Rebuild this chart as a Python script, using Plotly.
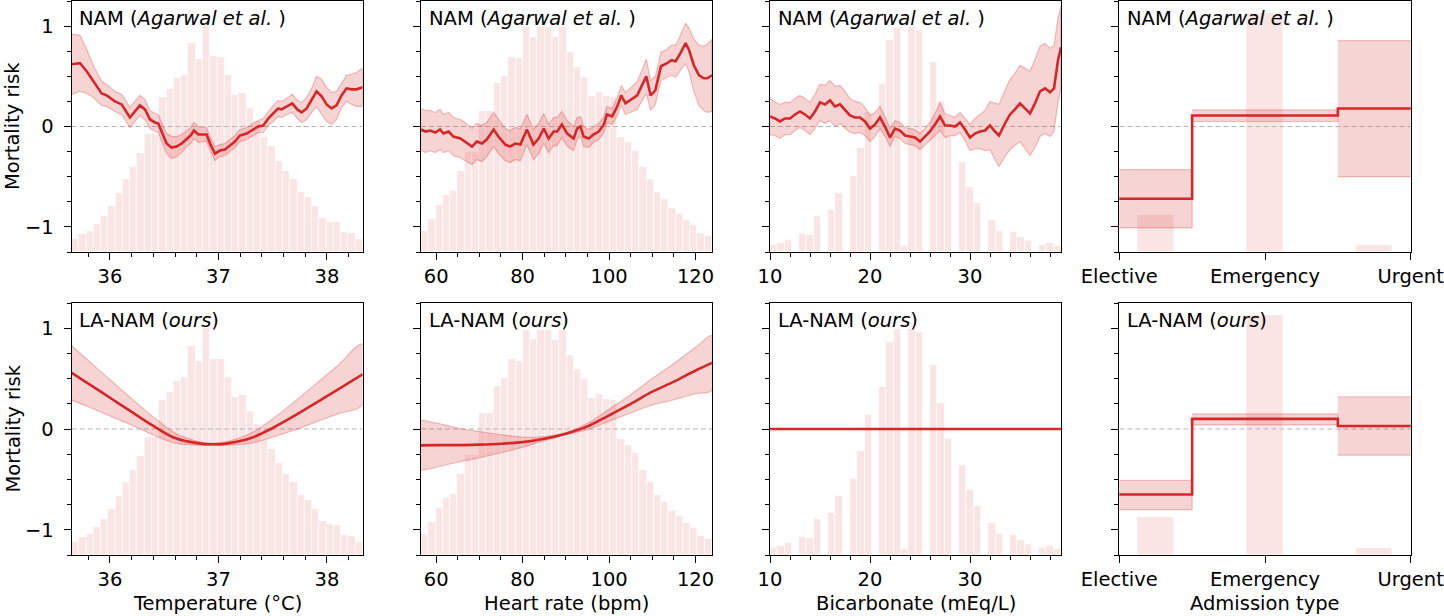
import numpy as np
import plotly.graph_objects as go

# ---------------- data ----------------
# Temperature (°C)
temp_range = [35.647, 38.33]
temp_hist = [0.056, 0.078, 0.093, 0.124, 0.158, 0.203, 0.261, 0.323, 0.377, 0.437,
             0.521, 0.521, 0.685, 0.720, 0.769, 0.783, 0.923, 0.854, 1.000, 0.866,
             0.863, 0.785, 0.695, 0.704, 0.636, 0.579, 0.508, 0.468, 0.405, 0.358,
             0.323, 0.265, 0.243, 0.202, 0.152, 0.135, 0.131, 0.087, 0.082, 0.056]
temp_x = [35.647, 35.723, 35.785, 35.846, 35.923, 35.969, 36.046, 36.108, 36.184, 36.230,
          36.276, 36.323, 36.369, 36.415, 36.445, 36.476, 36.522, 36.568, 36.614, 36.661,
          36.707, 36.743, 36.774, 36.814, 36.845, 36.891, 36.922, 36.968, 37.014, 37.060,
          37.106, 37.152, 37.198, 37.260, 37.321, 37.367, 37.413, 37.459, 37.505, 37.551,
          37.582, 37.628, 37.680, 37.727, 37.767, 37.813, 37.859, 37.905, 37.951, 37.997,
          38.043, 38.089, 38.135, 38.181, 38.227, 38.273, 38.330]
temp_nam = [0.62, 0.63, 0.55, 0.45, 0.33, 0.31, 0.25, 0.22, 0.09, 0.15,
            0.21, 0.17, 0.07, 0.04, 0.03, -0.05, -0.17, -0.21, -0.20, -0.17,
            -0.12, -0.09, -0.04, -0.08, -0.08, -0.08, -0.17, -0.27, -0.24, -0.23,
            -0.19, -0.15, -0.09, -0.07, -0.03, 0.00, 0.01, 0.08, 0.13, 0.18,
            0.17, 0.20, 0.23, 0.17, 0.14, 0.18, 0.26, 0.35, 0.30, 0.22,
            0.18, 0.21, 0.31, 0.38, 0.37, 0.37, 0.39]
temp_nam_hw = [0.30, 0.28, 0.22, 0.16, 0.12, 0.11, 0.10, 0.10, 0.10, 0.10,
               0.10, 0.10, 0.09, 0.09, 0.09, 0.09, 0.10, 0.11, 0.10, 0.09,
               0.08, 0.08, 0.08, 0.08, 0.07, 0.07, 0.07, 0.07, 0.06, 0.06,
               0.06, 0.06, 0.06, 0.06, 0.06, 0.06, 0.07, 0.07, 0.08, 0.08,
               0.08, 0.08, 0.09, 0.09, 0.10, 0.11, 0.12, 0.15, 0.17, 0.17,
               0.16, 0.14, 0.12, 0.13, 0.15, 0.17, 0.19]
temp_la_x = [35.647, 35.8, 36.0, 36.2, 36.4, 36.6, 36.8, 36.95, 37.1, 37.3, 37.5, 37.7, 37.9, 38.1, 38.33]
temp_la = [0.556, 0.45, 0.31, 0.17, 0.03, -0.09, -0.14, -0.152, -0.14, -0.09, 0.01, 0.13, 0.26, 0.39, 0.543]
temp_la_hw = [0.27, 0.23, 0.18, 0.13, 0.09, 0.05, 0.02, 0.01, 0.02, 0.05, 0.09, 0.14, 0.19, 0.24, 0.30]

# Heart rate (bpm)
hr_range = [56.5, 123.8]
hr_hist = [0.091, 0.147, 0.208, 0.253, 0.270, 0.358, 0.442, 0.442, 0.626, 0.626,
           0.747, 0.781, 0.865, 0.857, 0.994, 0.953, 0.994, 0.994, 0.950, 0.994,
           0.884, 0.820, 0.776, 0.691, 0.710, 0.689, 0.685, 0.511, 0.486, 0.448,
           0.375, 0.321, 0.265, 0.233, 0.196, 0.170, 0.143, 0.121, 0.084, 0.069]
hr_x = [56.5, 57.5, 58.6, 59.8, 60.9, 61.7, 62.9, 64.0, 65.6, 66.7,
        68.3, 69.4, 70.6, 71.7, 73.3, 74.4, 76.0, 77.1, 78.3, 79.5,
        81.0, 82.5, 83.7, 84.9, 86.0, 87.2, 88.0, 89.1, 90.3, 91.8,
        92.6, 93.4, 94.1, 95.3, 96.4, 97.6, 98.8, 99.5, 100.7, 101.9,
        102.8, 103.8, 104.9, 106.5, 107.6, 108.6, 109.6, 110.7, 112.0, 113.4,
        114.4, 115.4, 116.5, 117.7, 118.5, 119.6, 120.8, 121.9, 122.7, 123.8]
hr_nam = [-0.03, -0.05, -0.04, -0.06, -0.03, -0.07, -0.05, -0.10, -0.12, -0.15,
          -0.20, -0.15, -0.17, -0.13, -0.03, -0.10, -0.18, -0.20, -0.17, -0.18,
          -0.03, -0.18, -0.12, -0.02, -0.12, -0.05, -0.05, 0.02, -0.07, -0.12,
          -0.02, 0.00, -0.10, -0.12, -0.08, -0.05, 0.02, 0.12, 0.10, 0.20,
          0.31, 0.23, 0.26, 0.31, 0.41, 0.50, 0.31, 0.36, 0.60, 0.63,
          0.66, 0.65, 0.73, 0.83, 0.76, 0.61, 0.51, 0.48, 0.48, 0.51]
hr_nam_hw = [0.21, 0.21, 0.20, 0.20, 0.20, 0.19, 0.19, 0.19, 0.19, 0.19,
             0.18, 0.18, 0.18, 0.17, 0.17, 0.17, 0.16, 0.16, 0.16, 0.16,
             0.15, 0.15, 0.15, 0.15, 0.14, 0.14, 0.14, 0.13, 0.13, 0.12,
             0.11, 0.10, 0.10, 0.09, 0.08, 0.08, 0.08, 0.08, 0.08, 0.09,
             0.10, 0.11, 0.12, 0.14, 0.15, 0.17, 0.15, 0.14, 0.14, 0.14,
             0.15, 0.16, 0.18, 0.20, 0.22, 0.26, 0.30, 0.32, 0.34, 0.36]
hr_la_x = [56.5, 60, 65, 70, 75, 80, 85, 90, 95, 100, 105, 110, 115, 120, 123.8]
hr_la = [-0.162, -0.16, -0.16, -0.155, -0.146, -0.13, -0.096, -0.046, 0.026, 0.136, 0.25, 0.37, 0.47, 0.58, 0.656]
hr_la_hw = [0.25, 0.22, 0.17, 0.13, 0.09, 0.05, 0.02, 0.01, 0.03, 0.06, 0.09, 0.13, 0.18, 0.23, 0.27]

# Bicarbonate (mEq/L)
bic_range = [10.0, 39.1]
bic_hist = [0.029, 0.040, 0.054, 0.0, 0.078, 0.075, 0.159, 0.0, 0.187, 0.261,
            0.0, 0.336, 0.459, 0.619, 0.0, 0.742, 0.938, 0.997, 0.025, 0.997,
            0.982, 0.0, 0.839, 0.669, 0.513, 0.0, 0.399, 0.287, 0.216, 0.0,
            0.140, 0.093, 0.0, 0.087, 0.066, 0.050, 0.0, 0.031, 0.038, 0.027]
bic_x = [10.0, 10.5, 11.0, 11.5, 12.0, 12.5, 13.0, 13.5, 14.0, 14.5,
         15.0, 15.5, 16.0, 16.5, 17.0, 17.5, 18.0, 18.5, 19.0, 19.5,
         20.0, 20.5, 21.0, 21.5, 22.0, 22.5, 23.0, 23.5, 24.0, 24.5,
         25.0, 25.5, 26.0, 26.5, 27.0, 27.5, 28.0, 28.5, 29.0, 29.5,
         30.0, 30.5, 31.0, 31.5, 32.0, 32.5, 32.9, 33.5, 34.0, 34.5,
         35.0, 35.5, 36.0, 36.5, 37.0, 37.5, 38.0, 38.4, 38.8, 39.1]
bic_nam = [0.10, 0.08, 0.05, 0.08, 0.08, 0.12, 0.15, 0.12, 0.08, 0.15,
           0.24, 0.22, 0.26, 0.20, 0.22, 0.17, 0.11, 0.09, 0.09, 0.05,
           -0.02, 0.02, 0.09, 0.00, -0.11, -0.02, -0.04, -0.09, -0.10, -0.11,
           -0.15, -0.10, -0.05, 0.02, 0.10, 0.01, 0.01, 0.00, 0.04, -0.03,
           -0.11, -0.07, -0.05, -0.04, 0.01, -0.05, -0.09, 0.03, 0.12, 0.17,
           0.23, 0.18, 0.13, 0.23, 0.35, 0.38, 0.34, 0.38, 0.66, 0.79]
bic_nam_hw = [0.18, 0.17, 0.17, 0.16, 0.16, 0.16, 0.16, 0.16, 0.16, 0.17,
              0.18, 0.19, 0.20, 0.20, 0.19, 0.18, 0.17, 0.16, 0.15, 0.14,
              0.13, 0.12, 0.11, 0.10, 0.09, 0.08, 0.08, 0.08, 0.08, 0.08,
              0.08, 0.08, 0.09, 0.11, 0.14, 0.12, 0.10, 0.09, 0.10, 0.11,
              0.13, 0.15, 0.17, 0.20, 0.24, 0.28, 0.31, 0.33, 0.35, 0.36,
              0.38, 0.40, 0.42, 0.44, 0.45, 0.45, 0.44, 0.43, 0.42, 0.41]
bic_la_x = [10.0, 39.1]
bic_la = [0.0, 0.0]
bic_la_hw = [0.0, 0.0]

# Admission type
adm_cats = ["Elective", "Emergency", "Urgent"]
adm_hist_pos = [0.25, 1.0, 1.75]
adm_hist = [0.166, 1.058, 0.033]
adm_nam = [-0.72, 0.11, 0.18]
adm_nam_lo = [-1.01, 0.05, -0.50]
adm_nam_hi = [-0.43, 0.165, 0.855]
adm_la = [-0.65, 0.10, 0.03]
adm_la_lo = [-0.80, 0.04, -0.26]
adm_la_hi = [-0.51, 0.15, 0.32]

x_titles = ["Temperature (°C)", "Heart rate (bpm)", "Bicarbonate (mEq/L)", "Admission type"]
row_titles = ["NAM (<i>Agarwal et al.</i> )", "LA-NAM (<i>ours</i>)"]
y_title = "Mortality risk"

# ---------------- style ----------------
W, H = 1444, 616
RED = "#d62728"
HIST_COL = "rgba(214,39,40,0.12)"
BAND_FILL = "rgba(214,39,40,0.20)"
BAND_LINE = "rgba(214,39,40,0.28)"
FONT = "DejaVu Sans"
FS = 19.5
YMIN, YMAX = -1.25, 1.25
HIST_TOP = 1.0

col_px = [(71.7, 362.7), (421.0, 712.0), (770.0, 1061.0), (1119.3, 1410.7)]
row_px = [(1.0, 252.0), (303.0, 555.0)]
xdom = [[a / W, b / W] for a, b in col_px]
ydom = [[(H - b) / H, (H - a) / H] for a, b in row_px]

fig = go.Figure()

def ax_ids(i):
    s = "" if i == 1 else str(i)
    return "x" + s, "y" + s


def add_hist(xa, ya, centers, heights, width):
    h = np.asarray(heights) * (HIST_TOP - YMIN)
    fig.add_trace(go.Bar(x=centers, y=h, base=YMIN, width=width,
                         marker=dict(color=HIST_COL, line=dict(color="white", width=0.7)),
                         xaxis=xa, yaxis=ya, showlegend=False, hoverinfo="skip"))


def add_zero(xa, ya, rng):
    fig.add_trace(go.Scatter(x=rng, y=[0, 0], mode="lines",
                             line=dict(color="#b5b5b5", width=1.1, dash="5px,3px"),
                             xaxis=xa, yaxis=ya, showlegend=False, hoverinfo="skip"))


def add_band(xa, ya, x, lo, hi, shape="linear"):
    xs = list(x) + list(x)[::-1]
    ys = list(hi) + list(lo)[::-1]
    fig.add_trace(go.Scatter(x=xs, y=ys, mode="lines", fill="toself", fillcolor=BAND_FILL,
                             line=dict(color=BAND_LINE, width=1.2, shape=shape),
                             xaxis=xa, yaxis=ya, showlegend=False, hoverinfo="skip"))


def add_line(xa, ya, x, y, shape="linear"):
    fig.add_trace(go.Scatter(x=x, y=y, mode="lines", line=dict(color=RED, width=2.6, shape=shape),
                             xaxis=xa, yaxis=ya, showlegend=False, hoverinfo="skip"))


cont = [
    (temp_range, temp_hist, (temp_x, temp_nam, temp_nam_hw), (temp_la_x, temp_la, temp_la_hw), 1, 0.2),
    (hr_range, hr_hist, (hr_x, hr_nam, hr_nam_hw), (hr_la_x, hr_la, hr_la_hw), 20, 5),
    (bic_range, bic_hist, (bic_x, bic_nam, bic_nam_hw), (bic_la_x, bic_la, bic_la_hw), 10, 2),
]

tickfont = dict(family=FONT, size=FS, color="black")
layout_axes = {}
for r in range(2):
    for c in range(4):
        i = r * 4 + c + 1
        xa, ya = ax_ids(i)
        if c < 3:
            rng, hist, nam, la, major, minor = cont[c]
            nb = len(hist)
            edges = np.linspace(rng[0], rng[1], nb + 1)
            centers = (edges[:-1] + edges[1:]) / 2
            add_hist(xa, ya, centers, hist, edges[1] - edges[0])
            add_zero(xa, ya, rng)
            xs, ys, hw = nam if r == 0 else la
            shape = "linear" if r == 0 else "spline"
            ys = np.asarray(ys); hw = np.asarray(hw)
            if hw.max() > 0:
                add_band(xa, ya, xs, ys - hw, ys + hw, shape)
            add_line(xa, ya, xs, ys, shape)
            xaxis = dict(range=rng, tickmode="linear", tick0=0, dtick=major,
                         minor=dict(tickmode="linear", tick0=0, dtick=minor, ticks="outside",
                                    ticklen=4, tickwidth=1, tickcolor="black", showgrid=False))
        else:
            add_hist(xa, ya, adm_hist_pos, adm_hist, 0.25)
            add_zero(xa, ya, [0, 2])
            mid, lo, hi = (adm_nam, adm_nam_lo, adm_nam_hi) if r == 0 else (adm_la, adm_la_lo, adm_la_hi)
            for k in range(len(adm_cats)):
                add_band(xa, ya, [k - 0.5, k + 0.5], [lo[k], lo[k]], [hi[k], hi[k]])
            sx = [k - 0.5 for k in range(len(adm_cats))] + [len(adm_cats) - 0.5]
            sy = list(mid) + [mid[-1]]
            add_line(xa, ya, sx, sy, shape="hv")
            xaxis = dict(range=[0, 2], tickmode="array", tickvals=list(range(len(adm_cats))),
                         ticktext=adm_cats)
        xaxis.update(domain=xdom[c], anchor=ya, showline=True, mirror=True, linecolor="black",
                     linewidth=1.3, ticks="outside", ticklen=7, tickwidth=1.2, tickcolor="black",
                     showgrid=False, zeroline=False, tickfont=tickfont, automargin=False,
                     ticklabelstandoff=-1, ticklabeloverflow="allow")
        yaxis = dict(domain=ydom[r], anchor=xa, range=[YMIN, YMAX], tickmode="linear", tick0=0, dtick=1,
                     minor=dict(tickmode="linear", tick0=0, dtick=0.25, ticks="outside", ticklen=4,
                                tickwidth=1, tickcolor="black", showgrid=False),
                     showline=True, mirror=True, linecolor="black", linewidth=1.3,
                     ticks="outside", ticklen=7, tickwidth=1.2, tickcolor="black",
                     showgrid=False, zeroline=False, showticklabels=(c == 0),
                     tickfont=tickfont, automargin=False, ticklabelstandoff=6,
                     ticklabeloverflow="allow")
        layout_axes["xaxis" + ("" if i == 1 else str(i))] = xaxis
        layout_axes["yaxis" + ("" if i == 1 else str(i))] = yaxis

annotations = []
for r in range(2):
    for c in range(4):
        i = r * 4 + c + 1
        xa, ya = ax_ids(i)
        annotations.append(dict(text=row_titles[r], xref=xa + " domain", yref=ya + " domain",
                                x=5.5 / 291, y=1 - 17.5 / 252, xanchor="left", yanchor="middle",
                                showarrow=False, font=dict(family=FONT, size=FS, color="black")))
    annotations.append(dict(text=y_title, xref="paper", yref="paper", x=0,
                            y=(H - (row_px[r][0] + row_px[r][1]) / 2) / H, textangle=-90,
                            xanchor="left", yanchor="middle", showarrow=False, borderpad=0,
                            font=dict(family=FONT, size=FS, color="black")))
for c in range(4):
    annotations.append(dict(text=x_titles[c], xref="paper", yref="paper",
                            x=(col_px[c][0] + col_px[c][1]) / 2 / W, y=(H - 603) / H,
                            xanchor="center", yanchor="middle", showarrow=False,
                            font=dict(family=FONT, size=FS, color="black")))

fig.update_layout(width=W, height=H, margin=dict(l=0, r=0, t=0, b=0, autoexpand=False), autosize=False,
                  paper_bgcolor="white", plot_bgcolor="white", showlegend=False,
                  font=dict(family=FONT, size=FS, color="black"), bargap=0,
                  annotations=annotations, **layout_axes)

fig.write_html("out.html")
